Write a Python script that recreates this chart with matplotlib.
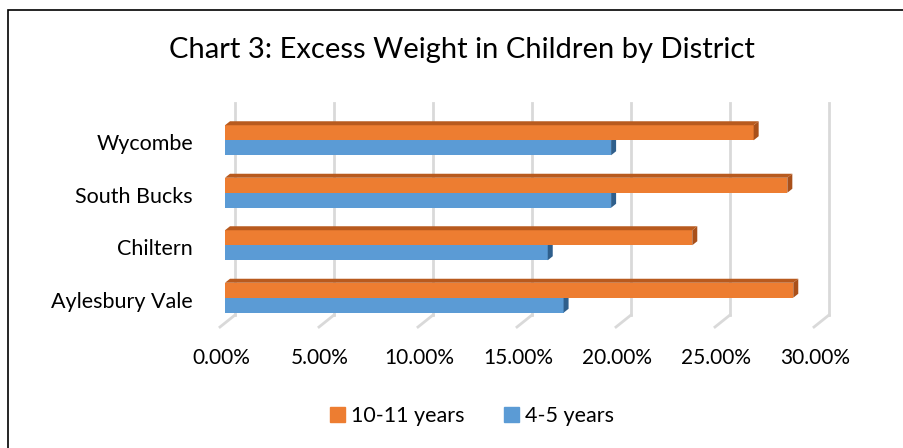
import numpy as np
import matplotlib.pyplot as plt
from matplotlib.patches import Polygon, Rectangle

plt.rcParams['font.family'] = ['Lato', 'DejaVu Sans']

districts = ['Aylesbury Vale', 'Chiltern', 'South Bucks', 'Wycombe']
older = [28.7, 23.6, 28.4, 26.7]      # 10-11 years, %
younger = [17.1, 16.3, 19.5, 19.5]    # 4-5 years, %
ticks = [0, 5, 10, 15, 20, 25, 30]

orange, orange_dark, orange_side = '#ed7d31', '#b85a1e', '#a9501a'
blue, blue_dark = '#5b9bd5', '#2f5f8c'

W, H = 904, 448
fig = plt.figure(figsize=(W / 100, H / 100), dpi=100)

# axes placed in pixels: x 0% -> 225px, 30% -> 819px; rows ~52.6px apart
x0, x1 = 225, 819
y_top, y_bot = 114, 324
ax = fig.add_axes([x0 / W, 1 - y_bot / H, (x1 - x0) / W, (y_bot - y_top) / H])
ax.set_xlim(0, 30)
ax.set_ylim(-0.5, 3.5)
ax.axis('off')

px_x = 30 / (x1 - x0)
px_y = 4 / (y_bot - y_top)

# floor + back-wall gridlines
for t in ticks:
    bx = t + 10 * px_x
    ax.plot([bx, bx], [-0.5 + 9 * px_y, 3.5 + 11 * px_y], color='#d9d9d9',
            lw=2, clip_on=False, zorder=1)
    ax.plot([bx, t - 5 * px_x], [-0.5 + 9 * px_y, -0.5 - 3 * px_y],
            color='#d9d9d9', lw=2, clip_on=False, zorder=1)
    ax.text(t - 4 * px_x, -0.5 - 34 * px_y, f'{t:.2f}%', ha='center',
            va='center', fontsize=15, color='#000000')

h = 15 * px_y
dx, dy = 5 * px_x, 4 * px_y
ys = np.arange(len(districts))


def bar3d(y, w, face, top, side, with_top=True):
    ax.barh(y, w, height=h, left=0, color=face, edgecolor='none', zorder=3)
    yb, yt = y - h / 2, y + h / 2
    ax.add_patch(Polygon([[w, yb], [w + dx, yb + dy], [w + dx, yt + dy], [w, yt]],
                         closed=True, facecolor=side, edgecolor='none', zorder=3))
    if with_top:
        ax.add_patch(Polygon([[0, yt], [dx, yt + dy], [w + dx, yt + dy], [w, yt]],
                             closed=True, facecolor=top, edgecolor='none', zorder=3))


for y, o, b in zip(ys, older, younger):
    bar3d(y - h / 2, b, blue, blue_dark, blue_dark, with_top=False)
    bar3d(y + h / 2, o, orange, orange_dark, orange_side)

for y, name in zip(ys, districts):
    ax.text(-32 * px_x, y - 4 * px_y, name, ha='right', va='center',
            fontsize=15.5)

fig.text(462 / W, 1 - 50 / H, 'Chart 3: Excess Weight in Children by District',
         ha='center', va='center', fontsize=21)

fig.legend(handles=[Rectangle((0, 0), 1, 1, color=orange),
                    Rectangle((0, 0), 1, 1, color=blue)],
           labels=['10-11 years', '4-5 years'], loc='center',
           bbox_to_anchor=(472 / W, 1 - 416 / H), ncol=2, frameon=False,
           fontsize=15.5, handlelength=0.7, handleheight=0.7,
           handletextpad=0.3, columnspacing=1.8)

# chart area outline
fig.add_artist(Rectangle((8 / W, -0.1), 1.2, 1 - 10 / H + 0.1,
                         transform=fig.transFigure, fill=False,
                         edgecolor='#000000', lw=1.2))

fig.savefig('out.png', dpi=100)
